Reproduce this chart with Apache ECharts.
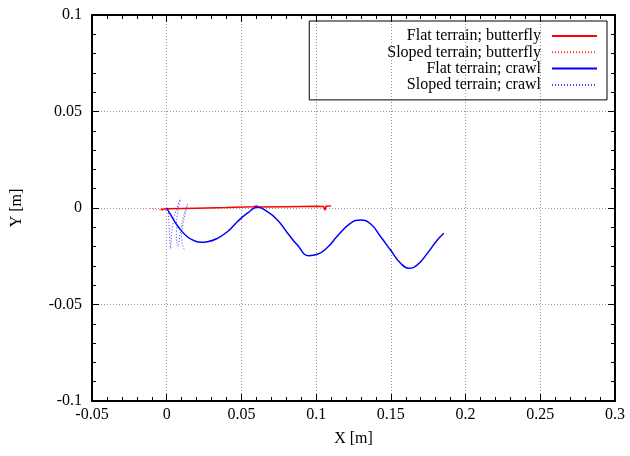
<!DOCTYPE html>
<html>
<head>
<meta charset="utf-8">
<script src="https://cdn.jsdelivr.net/npm/echarts@6/dist/echarts.min.js"></script>
<style>
  html, body { margin: 0; padding: 0; background: #fff; }
  #chart { width: 630px; height: 456px; }
</style>
</head>
<body>
<div id="chart"></div>
<script>
// legend names
var seriesNames = ['Flat terrain; butterfly', 'Sloped terrain; butterfly', 'Flat terrain; crawl', 'Sloped terrain; crawl'];

// trajectories [x, y] in metres
var flatButterfly = [
    [-0.004, -0.0008], [0.0, -0.0004], [0.02, -0.0001], [0.04, 0.0002], [0.058, 0.0006],
    [0.06, 0.001], [0.062, 0.0005], [0.08, 0.0007], [0.1, 0.0009], [0.105, 0.0008],
    [0.106, -0.0012], [0.1065, 0.0009], [0.11, 0.0011]
];
var slopedButterfly = [
    [-0.011, -0.0002], [-0.008, -0.0006], [-0.005, -0.0009], [-0.002, -0.0012], [0.0, -0.0012], [0.002, -0.0006]
];
var flatCrawl = [
    [0.0, 0.0], [0.0027, -0.0036], [0.006, -0.0078], [0.0094, -0.0114], [0.0138, -0.0149],
    [0.0183, -0.0169], [0.0227, -0.0178], [0.0272, -0.0175], [0.0339, -0.0157], [0.0406, -0.0123],
    [0.0473, -0.0071], [0.054, -0.0027], [0.0607, 0.0004], [0.0674, -0.0019], [0.0741, -0.0062],
    [0.0807, -0.0128], [0.0874, -0.0192], [0.0952, -0.0247], [0.1008, -0.024], [0.1075, -0.0205],
    [0.1142, -0.0145], [0.1231, -0.0078], [0.1298, -0.0062], [0.1365, -0.0083], [0.1432, -0.0149],
    [0.1498, -0.0218], [0.1565, -0.0286], [0.1621, -0.0312], [0.1677, -0.0295], [0.1744, -0.0235],
    [0.1811, -0.0166], [0.1855, -0.0131]
];
var slopedCrawl = [
    [0.001, -0.001], [0.0015, -0.008], [0.002, -0.015], [0.0025, -0.021], [0.003, -0.016],
    [0.004, -0.009], [0.006, -0.002], [0.0094, 0.005], [0.007, -0.004], [0.0065, -0.012],
    [0.007, -0.019], [0.0075, -0.02], [0.009, -0.013], [0.011, -0.005], [0.014, 0.002],
    [0.011, -0.008], [0.01, -0.016], [0.012, -0.022]
];

var xMin = -0.05, xMax = 0.3, yMin = -0.1, yMax = 0.1, step = 0.05;

var chart = echarts.init(document.getElementById('chart'));
var font = 'Liberation Serif';

function fmt(v) { return String(+v.toFixed(2)); }

var frame = { show: true, onZero: false, lineStyle: { color: '#000', width: 2 } };
var ticks = { show: true, inside: true, length: 7, lineStyle: { color: '#000', width: 1 } };
var minor = { show: true, splitNumber: 5, length: 4, lineStyle: { color: '#000', width: 1 } };
var grid = { show: true, lineStyle: { color: '#999', type: [1, 2], width: 1 } };

var option = {
    animation: false,
    backgroundColor: '#fff',
    textStyle: { fontFamily: font },
    grid: { left: 92, right: 15, top: 15, bottom: 55 },
    legend: {
        data: seriesNames,
        orient: 'vertical',
        align: 'right',
        right: 23,
        top: 21,
        padding: [7, 9, 7, 78],
        borderColor: '#000',
        borderWidth: 1,
        itemWidth: 45,
        itemHeight: 10,
        itemGap: 0.3,
        itemStyle: { opacity: 0 },
        textStyle: { fontFamily: font, fontSize: 16, color: '#000', lineHeight: 16, padding: [0, 6, 0, 0] }
    },
    xAxis: [
        {
            type: 'value', min: xMin, max: xMax, interval: step,
            name: 'X [m]', nameLocation: 'middle', nameGap: 30,
            nameTextStyle: { fontFamily: font, fontSize: 16, color: '#000' },
            axisLine: frame, axisTick: ticks, minorTick: minor, splitLine: grid,
            axisLabel: { fontFamily: font, fontSize: 16, color: '#000', margin: 6, formatter: fmt }
        },
        {
            type: 'value', min: xMin, max: xMax, interval: step, position: 'top',
            axisLine: frame, axisTick: ticks, minorTick: minor,
            splitLine: { show: false }, axisLabel: { show: false }
        }
    ],
    yAxis: [
        {
            type: 'value', min: yMin, max: yMax, interval: step,
            name: 'Y [m]', nameLocation: 'middle', nameGap: 67,
            nameTextStyle: { fontFamily: font, fontSize: 16, color: '#000' },
            axisLine: frame, axisTick: ticks, minorTick: minor, splitLine: grid,
            axisLabel: { fontFamily: font, fontSize: 16, color: '#000', margin: 10, formatter: fmt }
        },
        {
            type: 'value', min: yMin, max: yMax, interval: step, position: 'right',
            axisLine: frame, axisTick: ticks, minorTick: minor,
            splitLine: { show: false }, axisLabel: { show: false }
        }
    ],
    series: [
        {
            name: seriesNames[0], type: 'line', symbol: 'none', smooth: false,
            data: flatButterfly, lineStyle: { color: '#ff0000', width: 1.5 }, itemStyle: { color: '#ff0000' }
        },
        {
            name: seriesNames[1], type: 'line', symbol: 'none', smooth: true,
            data: slopedButterfly, lineStyle: { color: '#ff3030', width: 1, type: [1, 2] }, itemStyle: { color: '#ff3030' }
        },
        {
            name: seriesNames[2], type: 'line', symbol: 'none', smooth: 0.5,
            data: flatCrawl, lineStyle: { color: '#0000ff', width: 1.5 }, itemStyle: { color: '#0000ff' }
        },
        {
            name: seriesNames[3], type: 'line', symbol: 'none', smooth: true,
            data: slopedCrawl, lineStyle: { color: '#4040ff', width: 1, type: [1, 2] }, itemStyle: { color: '#4040ff' }
        }
    ]
};

chart.setOption(option);
</script>
</body>
</html>
